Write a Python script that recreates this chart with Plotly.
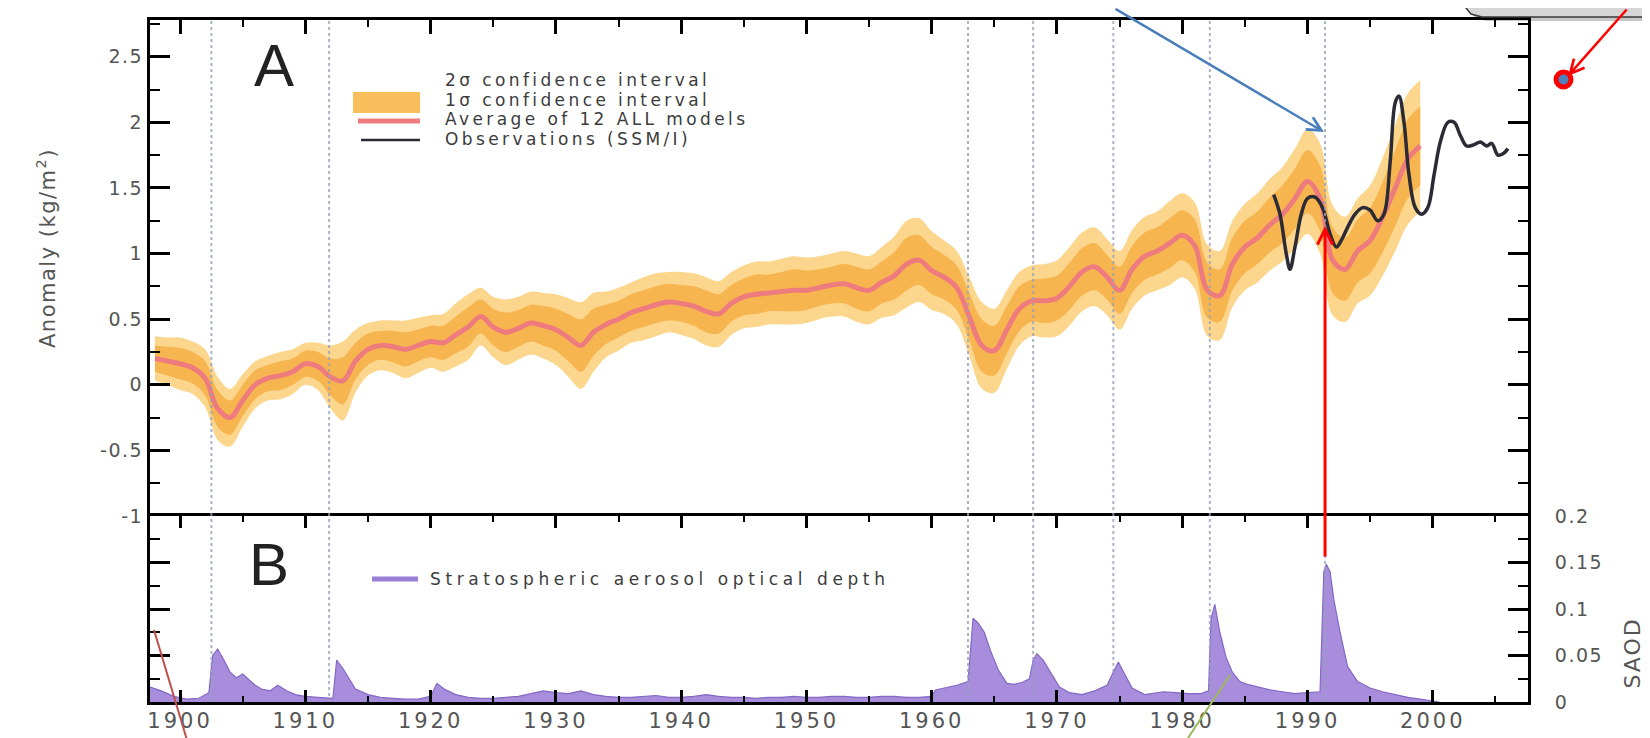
import plotly.graph_objects as go

# ---------------- data ----------------
model_years = list(range(1898, 2000))
model_mean = [0.20, 0.18, 0.16, 0.13, 0.05, -0.18, -0.25, -0.12, 0.00, 0.05,
              0.07, 0.10, 0.16, 0.14, 0.06, 0.03, 0.18, 0.27, 0.30, 0.29,
              0.27, 0.30, 0.33, 0.32, 0.38, 0.44, 0.52, 0.44, 0.40, 0.43,
              0.47, 0.45, 0.42, 0.36, 0.30, 0.40, 0.46, 0.50, 0.55, 0.58,
              0.61, 0.63, 0.62, 0.60, 0.56, 0.54, 0.62, 0.67, 0.69, 0.70,
              0.71, 0.72, 0.72, 0.74, 0.76, 0.77, 0.74, 0.72, 0.78, 0.83,
              0.92, 0.95, 0.87, 0.82, 0.74, 0.52, 0.30, 0.26, 0.42, 0.58,
              0.64, 0.64, 0.66, 0.75, 0.86, 0.90, 0.82, 0.72, 0.88, 0.98,
              1.02, 1.08, 1.14, 1.06, 0.72, 0.68, 0.92, 1.05, 1.12, 1.22,
              1.30, 1.42, 1.55, 1.42, 0.95, 0.88, 1.02, 1.10, 1.28, 1.50,
              1.72, 1.82]
# half-widths of the shaded bands
band_2sigma = [0.17, 0.18, 0.20, 0.20, 0.22, 0.24, 0.22, 0.20, 0.18, 0.17,
               0.18, 0.17, 0.16, 0.18, 0.24, 0.30, 0.24, 0.20, 0.19, 0.20,
               0.22, 0.21, 0.20, 0.22, 0.24, 0.25, 0.22, 0.23, 0.25, 0.24,
               0.24, 0.25, 0.27, 0.30, 0.33, 0.30, 0.25, 0.24, 0.23, 0.24,
               0.24, 0.23, 0.24, 0.25, 0.26, 0.25, 0.24, 0.24, 0.25, 0.24,
               0.25, 0.26, 0.25, 0.24, 0.24, 0.25, 0.26, 0.26, 0.27, 0.30,
               0.33, 0.32, 0.30, 0.28, 0.28, 0.30, 0.33, 0.32, 0.30, 0.28,
               0.27, 0.28, 0.29, 0.30, 0.30, 0.30, 0.29, 0.30, 0.30, 0.30,
               0.30, 0.32, 0.32, 0.33, 0.35, 0.34, 0.33, 0.33, 0.34, 0.35,
               0.36, 0.38, 0.40, 0.42, 0.42, 0.40, 0.40, 0.42, 0.45, 0.48,
               0.50, 0.50]
band_1sigma = [0.10, 0.11, 0.12, 0.12, 0.13, 0.14, 0.13, 0.12, 0.11, 0.10,
               0.11, 0.10, 0.10, 0.11, 0.14, 0.18, 0.14, 0.12, 0.11, 0.12,
               0.13, 0.12, 0.12, 0.13, 0.14, 0.15, 0.13, 0.14, 0.15, 0.14,
               0.14, 0.15, 0.16, 0.18, 0.20, 0.18, 0.15, 0.14, 0.14, 0.14,
               0.14, 0.14, 0.14, 0.15, 0.16, 0.15, 0.14, 0.14, 0.15, 0.14,
               0.15, 0.16, 0.15, 0.14, 0.14, 0.15, 0.16, 0.16, 0.16, 0.18,
               0.20, 0.19, 0.18, 0.17, 0.17, 0.18, 0.20, 0.19, 0.18, 0.17,
               0.16, 0.17, 0.17, 0.18, 0.18, 0.18, 0.17, 0.18, 0.18, 0.18,
               0.18, 0.19, 0.19, 0.20, 0.21, 0.20, 0.20, 0.20, 0.20, 0.21,
               0.22, 0.23, 0.24, 0.25, 0.25, 0.24, 0.24, 0.25, 0.27, 0.29,
               0.30, 0.30]

obs_years = [1987.3, 1987.8, 1988.3, 1988.6, 1989.0, 1989.5, 1990.0, 1990.6,
             1991.2, 1991.8, 1992.3, 1992.7, 1993.2, 1993.8, 1994.4, 1995.0,
             1995.6, 1996.1, 1996.6, 1997.0, 1997.3, 1997.7, 1998.1, 1998.6,
             1999.1, 1999.6, 2000.1, 2000.6, 2001.2, 2001.7, 2002.2, 2002.7,
             2003.3, 2003.8, 2004.3, 2004.7, 2005.2, 2005.6, 2006.0]
obs_values = [1.45, 1.30, 1.00, 0.88, 1.05, 1.30, 1.42, 1.43,
              1.35, 1.15, 1.05, 1.10, 1.20, 1.30, 1.35, 1.33,
              1.25, 1.30, 1.70, 2.15, 2.20, 2.00, 1.60, 1.35,
              1.30, 1.35, 1.60, 1.85, 2.00, 2.00, 1.90, 1.82,
              1.83, 1.85, 1.82, 1.84, 1.75, 1.76, 1.80]

saod_years = [1897.6, 1898.5, 1899.5, 1900.5, 1901.5, 1902.3, 1902.6, 1903.0,
              1903.5, 1904.0, 1904.5, 1905.0, 1905.5, 1906.0, 1906.5, 1907.2,
              1907.8, 1908.5, 1909.2, 1910.0, 1911.0, 1912.2, 1912.5, 1913.0,
              1913.5, 1914.0, 1915.0, 1916.0, 1917.0, 1918.0, 1919.0, 1920.0,
              1920.5, 1921.2, 1922.0, 1923.0, 1924.0, 1925.0, 1926.0, 1927.0,
              1928.0, 1929.0, 1930.0, 1931.0, 1932.0, 1933.0, 1934.0, 1935.0,
              1936.0, 1937.0, 1938.0, 1939.0, 1940.0, 1941.0, 1942.0, 1943.0,
              1944.0, 1945.0, 1946.0, 1947.0, 1948.0, 1949.0, 1950.0, 1951.0,
              1952.0, 1953.0, 1954.0, 1955.0, 1956.0, 1957.0, 1958.0, 1959.0,
              1960.0, 1960.3, 1961.0, 1962.0, 1962.9, 1963.1, 1963.3, 1963.7,
              1964.2, 1964.7, 1965.3, 1966.0, 1966.6, 1967.2, 1967.8, 1968.1,
              1968.4, 1968.9, 1969.5, 1970.2, 1971.0, 1972.0, 1973.0, 1974.0,
              1974.6, 1974.9, 1975.4, 1976.0, 1977.0, 1977.5, 1978.5, 1979.5,
              1980.5, 1981.5, 1982.1, 1982.3, 1982.6, 1983.0, 1983.5, 1984.0,
              1984.6, 1985.2, 1986.0, 1987.0, 1988.0, 1989.0, 1990.0, 1991.0,
              1991.3, 1991.5, 1991.8, 1992.1, 1992.6, 1993.2, 1994.0, 1995.0,
              1996.0, 1997.0, 1998.0, 1999.0, 2000.0, 2000.5]
saod_values = [0.016, 0.012, 0.006, 0.003, 0.004, 0.010, 0.050, 0.057,
               0.045, 0.032, 0.026, 0.030, 0.024, 0.018, 0.014, 0.012,
               0.018, 0.012, 0.008, 0.006, 0.005, 0.004, 0.045, 0.036,
               0.025, 0.014, 0.008, 0.005, 0.004, 0.003, 0.003, 0.006,
               0.020, 0.013, 0.008, 0.005, 0.004, 0.004, 0.005, 0.006,
               0.009, 0.012, 0.010, 0.009, 0.012, 0.008, 0.006, 0.005,
               0.005, 0.006, 0.007, 0.005, 0.005, 0.006, 0.008, 0.006,
               0.005, 0.005, 0.004, 0.005, 0.005, 0.006, 0.005, 0.005,
               0.006, 0.006, 0.005, 0.005, 0.006, 0.006, 0.005, 0.005,
               0.006, 0.013, 0.015, 0.018, 0.022, 0.060, 0.090, 0.085,
               0.075, 0.055, 0.035, 0.020, 0.019, 0.021, 0.025, 0.045,
               0.052, 0.045, 0.032, 0.016, 0.010, 0.008, 0.012, 0.018,
               0.035, 0.043, 0.030, 0.015, 0.008, 0.009, 0.011, 0.010,
               0.009, 0.009, 0.012, 0.090, 0.105, 0.075, 0.048, 0.032,
               0.022, 0.019, 0.016, 0.013, 0.011, 0.009, 0.010, 0.011,
               0.140, 0.148, 0.140, 0.110, 0.075, 0.038, 0.022, 0.015,
               0.011, 0.008, 0.005, 0.003, 0.001, 0.000]

volcano_years = [1902.5, 1911.9, 1962.9, 1968.1, 1974.5, 1982.2, 1991.4]

x_tick_vals = [1900, 1910, 1920, 1930, 1940, 1950, 1960, 1970, 1980, 1990, 2000]
x_tick_labels = ["1900", "1910", "1920", "1930", "1940", "1950", "1960",
                 "1970", "1980", "1990", "2000"]
ya_tick_vals = [-1, -0.5, 0, 0.5, 1, 1.5, 2, 2.5]
ya_tick_labels = ["-1", "-0.5", "0", "0.5", "1", "1.5", "2", "2.5"]
yb_tick_vals = [0, 0.05, 0.1, 0.15, 0.2]
yb_tick_labels = ["0", "0.05", "0.1", "0.15", "0.2"]

legend_a = ["2\u03c3 confidence interval", "1\u03c3 confidence interval",
            "Average of 12 ALL models", "Observations (SSM/I)"]
legend_b = "Stratospheric aerosol optical depth"

# ---------------- layout geometry ----------------
W, H = 1650, 738
L, R, T, B = 142, 130, 12, 44
PW, PH = W - L - R, H - T - B
split = 186 / PH


def px(x):
    return (x - L) / PW


def py(y):
    return 1 - (y - T) / PH


def sp(text, ls):
    return f'<span style="letter-spacing:{ls}px">{text}</span>'


FONT = "DejaVu Sans"
TICKC = "#555555"
TXTC = "#3c3c3c"

upper2 = [m + w for m, w in zip(model_mean, band_2sigma)]
lower2 = [m - w for m, w in zip(model_mean, band_2sigma)]
upper1 = [m + w for m, w in zip(model_mean, band_1sigma)]
lower1 = [m - w for m, w in zip(model_mean, band_1sigma)]

fig = go.Figure()
fig.add_trace(go.Scatter(x=model_years, y=lower2, xaxis="x2", yaxis="y",
                         mode="lines", line=dict(width=0, shape="spline"),
                         showlegend=False, hoverinfo="skip"))
fig.add_trace(go.Scatter(x=model_years, y=upper2, xaxis="x2", yaxis="y",
                         mode="lines", line=dict(width=0, shape="spline"),
                         fill="tonexty", fillcolor="#FBD68C",
                         showlegend=False, hoverinfo="skip"))
fig.add_trace(go.Scatter(x=model_years, y=lower1, xaxis="x2", yaxis="y",
                         mode="lines", line=dict(width=0, shape="spline"),
                         showlegend=False, hoverinfo="skip"))
fig.add_trace(go.Scatter(x=model_years, y=upper1, xaxis="x2", yaxis="y",
                         mode="lines", line=dict(width=0, shape="spline"),
                         fill="tonexty", fillcolor="#F7B550",
                         showlegend=False, hoverinfo="skip"))
fig.add_trace(go.Scatter(x=model_years, y=model_mean, xaxis="x2", yaxis="y",
                         mode="lines", line=dict(color="#EE7C7E", width=5, shape="spline"),
                         showlegend=False))
fig.add_trace(go.Scatter(x=obs_years, y=obs_values, xaxis="x2", yaxis="y",
                         mode="lines", line=dict(color="#2B2B35", width=3.5, shape="spline"),
                         showlegend=False))
fig.add_trace(go.Scatter(x=saod_years, y=saod_values, xaxis="x", yaxis="y2",
                         mode="lines", line=dict(color="#8468C4", width=1.2),
                         fill="tozeroy", fillcolor="#A78DDC",
                         showlegend=False))

axis_common = dict(showline=True, linecolor="black", linewidth=3,
                   ticks="inside", tickcolor="black", showgrid=False,
                   zeroline=False)

fig.update_layout(
    width=W, height=H,
    margin=dict(l=L, r=R, t=T, b=B, autoexpand=False),
    paper_bgcolor="white", plot_bgcolor="white",
    showlegend=False,
    xaxis=dict(**axis_common, domain=[0, 1], range=[1897.6, 2007.6],
               anchor="y2", side="bottom", mirror="ticks",
               ticklen=12, tickwidth=2.5,
               tickvals=x_tick_vals, ticktext=[sp(t, 3) for t in x_tick_labels],
               tickfont=dict(family=FONT, size=21, color=TICKC),
               ticklabelstandoff=-2,
               minor=dict(ticks="inside", tick0=1900, dtick=5, ticklen=6,
                          tickwidth=2, tickcolor="black")),
    xaxis2=dict(**axis_common, domain=[0, 1], range=[1897.6, 2007.6],
                matches="x", anchor="y", side="top",
                ticklen=14, tickwidth=2.5, tickvals=x_tick_vals,
                showticklabels=False,
                minor=dict(ticks="inside", tick0=1900, dtick=5, ticklen=7,
                           tickwidth=2, tickcolor="black")),
    yaxis=dict(**axis_common, domain=[split, 1], range=[-1, 2.78],
               anchor="x2", side="left", mirror="ticks",
               ticklen=20, tickwidth=2.5,
               tickvals=ya_tick_vals, ticktext=[sp(t, 1.5) for t in ya_tick_labels],
               tickfont=dict(family=FONT, size=19, color=TICKC),
               ticklabelstandoff=0,
               minor=dict(ticks="inside", tick0=0, dtick=0.25, ticklen=10,
                          tickwidth=2, tickcolor="black")),
    yaxis2=dict(**axis_common, domain=[0, split], range=[0, 0.2],
                anchor="x", side="right", mirror="ticks",
                ticklen=20, tickwidth=2.5,
                tickvals=yb_tick_vals, ticktext=[sp(t, 1.5) for t in yb_tick_labels],
                tickfont=dict(family=FONT, size=19, color=TICKC),
                ticklabelstandoff=20,
                minor=dict(ticks="inside", tick0=0, dtick=0.025, ticklen=10,
                           tickwidth=2, tickcolor="black")),
)

shapes = []
# eruption marker lines
for vy in volcano_years:
    shapes.append(dict(type="line", xref="x", yref="paper", x0=vy, x1=vy,
                       y0=0, y1=1, layer="above",
                       line=dict(color="rgba(150,160,190,0.8)", width=2, dash="dot")))

# legend symbols panel A
shapes.append(dict(type="rect", xref="paper", yref="paper",
                   x0=px(345), x1=px(412), y0=py(105), y1=py(84),
                   fillcolor="#F8BE5C", line=dict(width=0)))
shapes.append(dict(type="line", xref="paper", yref="paper",
                   x0=px(350), x1=px(412), y0=py(113), y1=py(113),
                   line=dict(color="#EE7C7E", width=5)))
shapes.append(dict(type="line", xref="paper", yref="paper",
                   x0=px(353), x1=px(412), y0=py(132), y1=py(132),
                   line=dict(color="#2B2B35", width=2.5)))
# legend symbol panel B
shapes.append(dict(type="line", xref="paper", yref="paper",
                   x0=px(364), x1=px(410), y0=py(571), y1=py(571),
                   line=dict(color="#9A7FD6", width=5)))

# overlay drawings
shapes.append(dict(type="line", xref="paper", yref="paper",
                   x0=px(1222), y0=py(667), x1=px(1172), y1=py(742),
                   line=dict(color="#9BBB59", width=2)))
shapes.append(dict(type="line", xref="paper", yref="paper",
                   x0=px(146), y0=py(622), x1=px(182), y1=py(742),
                   line=dict(color="#C0504D", width=2)))


def path_pts(pts):
    return "M " + " L ".join(f"{px(a):.5f},{py(b):.5f}" for a, b in pts) + " Z"


shadow = [(1462, -10), (1462, 2), (1467, 10), (1478, 13), (1660, 13), (1660, -10)]
box = [(1458, -10), (1458, 0), (1463, 6), (1474, 9), (1660, 9), (1660, -10)]
shapes.append(dict(type="path", xref="paper", yref="paper", path=path_pts(shadow),
                   fillcolor="rgba(0,0,0,0.22)", line=dict(width=0)))
shapes.append(dict(type="path", xref="paper", yref="paper", path=path_pts(box),
                   fillcolor="#D6D6D6", line=dict(color="#3a3a3a", width=1.5)))
# red ring marker
shapes.append(dict(type="circle", xref="paper", yref="paper",
                   x0=px(1548), x1=px(1563), y0=py(79), y1=py(64),
                   fillcolor="#4F81BD", line=dict(color="#FF0000", width=5)))
fig.update_layout(shapes=shapes)

ann = []
ann.append(dict(xref="paper", yref="paper", x=px(266), y=py(58), text="A",
                xanchor="center", yanchor="middle",
                showarrow=False, font=dict(family="Liberation Sans", size=60, color="#222")))
ann.append(dict(xref="paper", yref="paper", x=px(261), y=py(556), text="B",
                xanchor="center", yanchor="middle",
                showarrow=False, font=dict(family="Liberation Sans", size=60, color="#222")))
for i, t in enumerate(legend_a):
    ann.append(dict(xref="paper", yref="paper", x=px(435), y=py(72 + 19.5 * i),
                    xanchor="left", yanchor="middle", text=sp(t, 3.4),
                    showarrow=False, font=dict(family=FONT, size=17, color=TXTC)))
ann.append(dict(xref="paper", yref="paper", x=px(420), y=py(571),
                xanchor="left", yanchor="middle", text=sp(legend_b, 4.6),
                showarrow=False, font=dict(family=FONT, size=17, color=TXTC)))
ann.append(dict(xref="paper", yref="paper", x=px(38), y=py(240),
                xanchor="center", yanchor="middle",
                text=sp("Anomaly (kg/m<sup>2</sup>)", 1.5), textangle=-90,
                showarrow=False, font=dict(family=FONT, size=21, color=TICKC)))
ann.append(dict(xref="paper", yref="paper", x=px(1638), y=py(645),
                xanchor="right", yanchor="middle",
                text=sp("SAOD", 2), textangle=-90,
                showarrow=False, font=dict(family=FONT, size=22, color=TICKC)))
# arrows
ann.append(dict(xref="x", yref="paper", x=volcano_years[-1], y=py(218), text="",
                showarrow=True, arrowhead=5, arrowwidth=3, arrowsize=1,
                arrowcolor="#FF0000", ax=0, ay=332, standoff=0))
ann.append(dict(xref="paper", yref="paper", x=px(1316), y=py(124), text="",
                showarrow=True, arrowhead=5, arrowwidth=2.5, arrowsize=1.1,
                arrowcolor="#4A7EBB", ax=-210, ay=-134, standoff=0))
ann.append(dict(xref="paper", yref="paper", x=px(1560), y=py(68), text="",
                showarrow=True, arrowhead=5, arrowwidth=2.5, arrowsize=1.1,
                arrowcolor="#FF0000", ax=60, ay=-72, standoff=0))
fig.update_layout(annotations=ann)

fig.write_html("out.html")
